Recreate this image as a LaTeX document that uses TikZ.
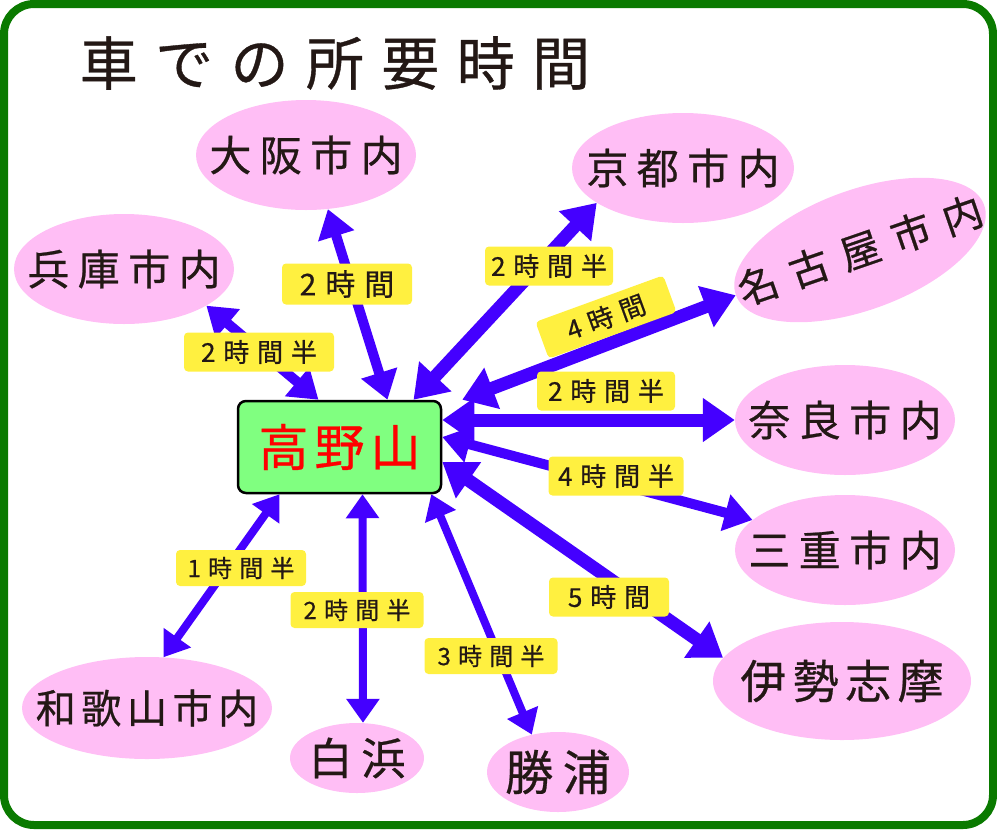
\documentclass[tikz,border=0pt]{standalone}
\usepackage{fontspec}
\usetikzlibrary{shapes.geometric,arrows.meta}
\newfontfamily\jpwide{Noto Sans CJK JP}[LetterSpace=20, FakeBold=0.6]
\newfontfamily\jpmid{Noto Sans CJK JP}[LetterSpace=14, FakeBold=0.6]
\newfontfamily\jpslant{Noto Sans CJK JP}[LetterSpace=35, FakeBold=0.6]
\newfontfamily\jptime{Noto Sans CJK JP}[LetterSpace=30, FakeBold=0.6]
\newfontfamily\jphub{Noto Sans CJK JP}[LetterSpace=12, FakeBold=0.6]
\newfontfamily\jptitle{Noto Sans CJK JP}[LetterSpace=30, FakeBold=0.6]
\definecolor{framegreen}{RGB}{10,122,0}
\definecolor{placepink}{RGB}{255,190,245}
\definecolor{hubgreen}{RGB}{128,255,128}
\definecolor{timeyellow}{RGB}{255,240,64}
\definecolor{linkblue}{RGB}{68,0,255}
\definecolor{inkblack}{RGB}{35,24,21}
\tikzset{
  place/.style={ellipse, fill=placepink, inner sep=0pt},
  name text/.style={font=\jpwide\fontsize{42}{42}\selectfont, text=inkblack},
  time/.style={fill=timeyellow, rounded corners=4pt, inner sep=0pt, minimum height=39pt,
    font=\jptime\fontsize{26}{26}\selectfont, text=inkblack},
  time small/.style={time, minimum height=36pt, font=\jptime\fontsize{24}{24}\selectfont},
  link/.style={linkblue, line width=13pt, {Triangle[length=32pt,width=42pt]}-{Triangle[length=32pt,width=42pt]}},
  link mid/.style={linkblue, line width=10pt, {Triangle[length=28pt,width=36pt]}-{Triangle[length=28pt,width=36pt]}},
  link thin/.style={linkblue, line width=8pt, {Triangle[length=24pt,width=32pt]}-{Triangle[length=24pt,width=32pt]}},
}
\begin{document}
\begin{tikzpicture}[x=1pt, y=-1pt, line join=round]
\useasboundingbox (0,0) rectangle (997,831);
\draw[framegreen, line width=8pt, rounded corners=30pt] (4,4) rectangle (993,825);
\node[font=\jptitle\fontsize{58}{58}\selectfont, text=inkblack] (title) at (335,63) {車での所要時間};
% center
\node[draw=black, line width=2.5pt, fill=hubgreen, rounded corners=8pt, minimum width=203pt,
  minimum height=92pt, text=red, font=\jphub\fontsize{50}{50}\selectfont] (hub) at (339.5,447) {高野山};
% destinations
\node[place, minimum width=220pt, minimum height=110pt, label={[name text]center:大阪市内}] (osaka) at (306,155) {};
\node[place, minimum width=220pt, minimum height=110pt, label={[name text]center:兵庫市内}] (hyogo) at (124,269) {};
\node[place, minimum width=222pt, minimum height=110pt, label={[name text]center:京都市内}] (kyoto) at (683,168) {};
\node[place, minimum width=264pt, minimum height=120pt, rotate=20,
  label={[name text, font=\jpslant\fontsize{40}{40}\selectfont, rotate=19]center:名古屋市内}] (nagoya) at (860,250) {};
\node[place, minimum width=220pt, minimum height=110pt, label={[name text]center:奈良市内}] (nara) at (845,420) {};
\node[place, minimum width=220pt, minimum height=110pt, label={[name text]center:三重市内}] (mie) at (845,550) {};
\node[place, minimum width=258pt, minimum height=118pt,
  label={[name text, font=\jpmid\fontsize{46}{46}\selectfont]center:伊勢志摩}] (ise) at (842,681) {};
\node[place, minimum width=250pt, minimum height=102pt,
  label={[name text, font=\jpmid\fontsize{40}{40}\selectfont]center:和歌山市内}] (wakayama) at (147,708) {};
\node[place, minimum width=134pt, minimum height=70pt,
  label={[name text, font=\jpwide\fontsize{44}{44}\selectfont]center:白浜}] (shirahama) at (357,758) {};
\node[place, minimum width=142pt, minimum height=80pt,
  label={[name text, font=\jpwide\fontsize{48}{48}\selectfont]center:勝浦}] (katsuura) at (558,772) {};
% routes
\draw[link mid] ([xshift=-21pt]hub.north) -- (hyogo.-24);
\draw[link mid] ([xshift=48pt]hub.north) -- (osaka.-68);
\draw[link] ([xshift=74pt]hub.north) -- (kyoto.-158);
\draw[link] ([xshift=20pt]hub.north east) -- (nagoya.west);
\draw[link] (hub.east |- nara.west) -- (nara.west);
\draw[link mid] ([yshift=10pt]hub.east) -- (mie.162);
\draw[link] ([yshift=-15pt]hub.east) -- (ise.169);
\draw[link thin] ([xshift=-11pt]hub.south east) -- (katsuura.125);
\draw[link thin] ([xshift=23pt]hub.south) -- ([xshift=6pt]shirahama.north);
\draw[link thin] ([xshift=-60pt]hub.south) -- (wakayama.72);
% times
\node[time, minimum width=150pt] (t-hyogo) at (259,352) {2時間半};
\node[time, minimum width=130pt, minimum height=41pt, font=\jptime\fontsize{30}{30}\selectfont] (t-osaka) at (347,284) {2時間};
\node[time, minimum width=128pt] (t-kyoto) at (549,266) {2時間半};
\node[time, minimum width=136pt, rotate=20] (t-nagoya) at (606,317) {4時間};
\node[time, minimum width=138pt] (t-nara) at (606,391) {2時間半};
\node[time, minimum width=135pt] (t-mie) at (616,476) {4時間半};
\node[time, minimum width=120pt] (t-ise) at (609,597) {5時間};
\node[time small, minimum width=133pt] (t-katsuura) at (491,656) {3時間半};
\node[time small, minimum width=133pt] (t-shirahama) at (357,610) {2時間半};
\node[time small, minimum width=130pt] (t-wakayama) at (241,568) {1時間半};
\end{tikzpicture}
\end{document}
